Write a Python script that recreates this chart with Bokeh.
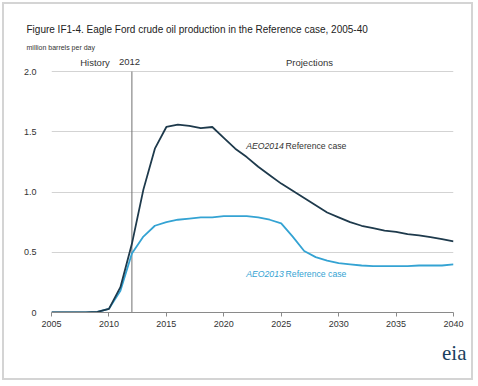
import numpy as np
from bokeh.plotting import figure
from bokeh.models import Label, Title, FixedTicker
from bokeh.embed import file_html
from bokeh.resources import INLINE

years = list(range(2005, 2041))
aeo2014 = [0, 0, 0, 0, 0.005, 0.03, 0.21, 0.57, 1.02, 1.36, 1.54, 1.56, 1.55, 1.53, 1.54,
           1.45, 1.36, 1.29, 1.21, 1.14, 1.07, 1.01, 0.95, 0.89, 0.83, 0.79, 0.75, 0.72,
           0.70, 0.68, 0.67, 0.65, 0.64, 0.625, 0.61, 0.59]
aeo2013 = [0, 0, 0, 0, 0.005, 0.03, 0.18, 0.49, 0.63, 0.72, 0.75, 0.77, 0.78, 0.79, 0.79,
           0.80, 0.80, 0.80, 0.79, 0.77, 0.74, 0.63, 0.51, 0.46, 0.43, 0.41, 0.40, 0.39,
           0.385, 0.385, 0.385, 0.385, 0.39, 0.39, 0.39, 0.40]
x_ticks = [2005, 2010, 2015, 2020, 2025, 2030, 2035, 2040]
y_ticks = [0, 0.5, 1.0, 1.5, 2.0]
y_tick_labels = ["0", "0.5", "1.0", "1.5", "2.0"]
history_year = 2012

title_text = "Figure IF1-4. Eagle Ford crude oil production in the Reference case, 2005-40"
unit_text = "million barrels per day"

DARK = "#1e3a4c"
LIGHT = "#34a3d3"
FONT = "Liberation Sans"

p = figure(width=475, height=382, x_range=(2005, 2040), y_range=(0, 2.15),
           output_backend="svg", toolbar_location=None,
           min_border_left=51, min_border_right=22, min_border_top=53, min_border_bottom=70,
           background_fill_color="white", border_fill_color="white", border_fill_alpha=0)
p.outline_line_color = None
p.styles = {"outline": "1px solid #d4d4d4", "outline-offset": "-3px",
            "box-shadow": "inset 0 0 0 3px white, inset 0 0 0 4px #d4d4d4",
            "background-color": "white"}

p.xgrid.grid_line_color = None
p.ygrid.grid_line_color = "#d3d3d3"
p.ygrid.grid_line_width = 1

p.xaxis.ticker = FixedTicker(ticks=x_ticks)
p.xaxis.minor_tick_line_color = None
p.xaxis.major_tick_in = 0
p.xaxis.major_tick_out = 4
p.xaxis.axis_line_color = "#8a8a8a"
p.xaxis.major_tick_line_color = "#8a8a8a"
p.xaxis.major_label_text_font = FONT
p.xaxis.major_label_text_font_size = "9px"
p.xaxis.major_label_text_color = "#333333"
p.xaxis.major_label_standoff = 4

p.yaxis.ticker = FixedTicker(ticks=y_ticks)
p.yaxis.major_label_overrides = {t: l for t, l in zip(y_ticks, y_tick_labels)}
p.yaxis.axis_line_color = None
p.yaxis.major_tick_line_color = None
p.yaxis.minor_tick_line_color = None
p.yaxis.major_label_text_font = FONT
p.yaxis.major_label_text_font_size = "9px"
p.yaxis.major_label_text_color = "#333333"
p.yaxis.major_label_standoff = 9

p.segment(x0=[history_year], y0=[0], x1=[history_year], y1=[y_ticks[-1]],
          line_color="#707070", line_width=1)

p.line(years, aeo2013, line_color=LIGHT, line_width=1.8)
p.line(years, aeo2014, line_color=DARK, line_width=1.8)


def lab(x, y, text, size, color="#333333", style="normal", align="left", font=FONT):
    p.add_layout(Label(x=x, y=y, text=text, text_font=font, text_font_size=size,
                       text_color=color, text_font_style=style, text_align=align,
                       text_baseline="middle"))


lab(2008.79, 2.079, "History", "9.5px", align="center")
lab(2011.79, 2.079, str(history_year), "9.5px", align="center")
lab(2027.46, 2.079, "Projections", "9.5px", align="center")

lab(2021.95, 1.386, "AEO2014", "8.7px", color="#333333", style="italic")
lab(2025.38, 1.386, "Reference case", "8.7px", color="#333333")
lab(2021.95, 0.321, "AEO2013", "8.7px", color=LIGHT, style="italic")
lab(2025.38, 0.321, "Reference case", "8.7px", color=LIGHT)

p.add_layout(Title(text=unit_text, text_font=FONT, text_font_size="7px", text_color="#333333",
                   text_font_style="normal", align="left", offset=-25, standoff=6), "above")
p.add_layout(Title(text=title_text, text_font=FONT, text_font_size="10px", text_color="#222222",
                   text_font_style="normal", align="left", offset=-25, standoff=7), "above")

p.add_layout(Title(text="eia", text_font="Liberation Serif", text_font_size="21px",
                   text_color="#1b3f5e", text_font_style="normal", align="right",
                   offset=-13, standoff=18), "below")

open("out.html", "w").write(file_html(p, INLINE))
